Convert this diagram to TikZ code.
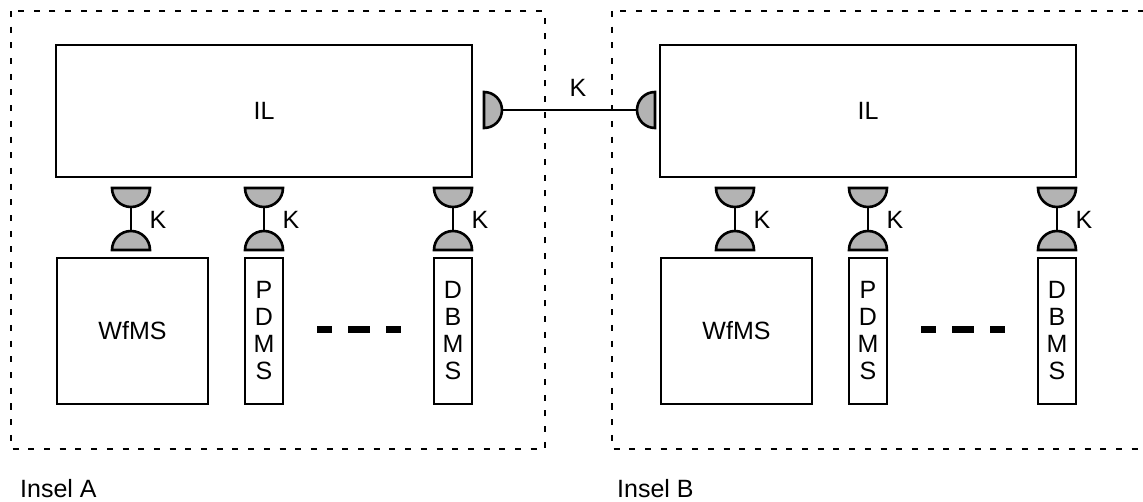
\documentclass[tikz,border=0pt]{standalone}
\usepackage{fontspec}
\setmainfont{Liberation Sans}
\definecolor{sockgray}{RGB}{179,179,179}
\begin{document}
\begin{tikzpicture}[x=1pt,y=1pt,
  every node/.style={font=\fontsize{25}{27}\selectfont},
  island/.style={draw=black,line width=1.8pt,dash pattern=on 6pt off 9.7pt},
  sysbox/.style={draw=black,line width=1.6pt,rectangle,inner sep=0pt,fill=white},
  sock/.style={draw=black,line width=2.6pt,fill=sockgray},
  wire/.style={draw=black,line width=1.8pt},
  lbl/.style={inner sep=0pt},
  gap/.style={fill=black},
  hourglass/.pic={
    \draw[sock] (-19pt,0pt) arc[start angle=180,end angle=360,radius=19pt] -- cycle;
    \draw[sock] (-19pt,-62pt) arc[start angle=180,end angle=0,radius=19pt] -- cycle;
    \coordinate (-top) at (0pt,-19pt);
    \coordinate (-bot) at (0pt,-43pt);
    \draw[wire] (-top) -- (-bot);
    \node[lbl] (-k) at (27pt,-32pt) {K};
  }
]
\clip (0,0) rectangle (1143,-502);
\fill[white] (0,0) rectangle (1143,-502);

% islands
\draw[island] (11,-11) rectangle (545,-449);
\draw[island] (612,-11) rectangle (1170,-449);

% Island A
\node[sysbox,minimum width=416pt,minimum height=132pt] (ilA) at (264,-111) {IL};
\node[sysbox,minimum width=151pt,minimum height=146pt] (wfA) at (132.5,-331) {WfMS};
\node[sysbox,minimum width=38pt,minimum height=146pt,align=center] (pdA) at (264,-331) {P\\D\\M\\S};
\node[sysbox,minimum width=38pt,minimum height=146pt,align=center] (dbA) at (453,-331) {D\\B\\M\\S};
\pic (hA1) at (131,-188) {hourglass};
\pic (hA2) at (264,-188) {hourglass};
\pic (hA3) at (453,-188) {hourglass};
\fill[gap] (317,-326) rectangle (332,-333);
\fill[gap] (348,-326) rectangle (370,-333);
\fill[gap] (386,-326) rectangle (401,-333);

% Island B
\node[sysbox,minimum width=416pt,minimum height=132pt] (ilB) at (868,-111) {IL};
\node[sysbox,minimum width=151pt,minimum height=146pt] (wfB) at (736.5,-331) {WfMS};
\node[sysbox,minimum width=38pt,minimum height=146pt,align=center] (pdB) at (868,-331) {P\\D\\M\\S};
\node[sysbox,minimum width=38pt,minimum height=146pt,align=center] (dbB) at (1057,-331) {D\\B\\M\\S};
\pic (hB1) at (735,-188) {hourglass};
\pic (hB2) at (868,-188) {hourglass};
\pic (hB3) at (1057,-188) {hourglass};
\fill[gap] (921,-326) rectangle (936,-333);
\fill[gap] (952,-326) rectangle (974,-333);
\fill[gap] (990,-326) rectangle (1005,-333);

% inter-island connector
\coordinate (sL) at (502,-110);
\coordinate (sR) at (637,-110);
\draw[wire] (sL) -- (sR);
\draw[sock] (484,-92) arc[start angle=90,end angle=-90,radius=18pt] -- cycle;
\draw[sock] (655,-92) arc[start angle=90,end angle=270,radius=18pt] -- cycle;
\node[lbl] (kAB) at (578,-88) {K};

% island labels
\node[lbl,anchor=base west] (insA) at (20,-497) {Insel A};
\node[lbl,anchor=base west] (insB) at (617,-497) {Insel B};
\end{tikzpicture}
\end{document}
